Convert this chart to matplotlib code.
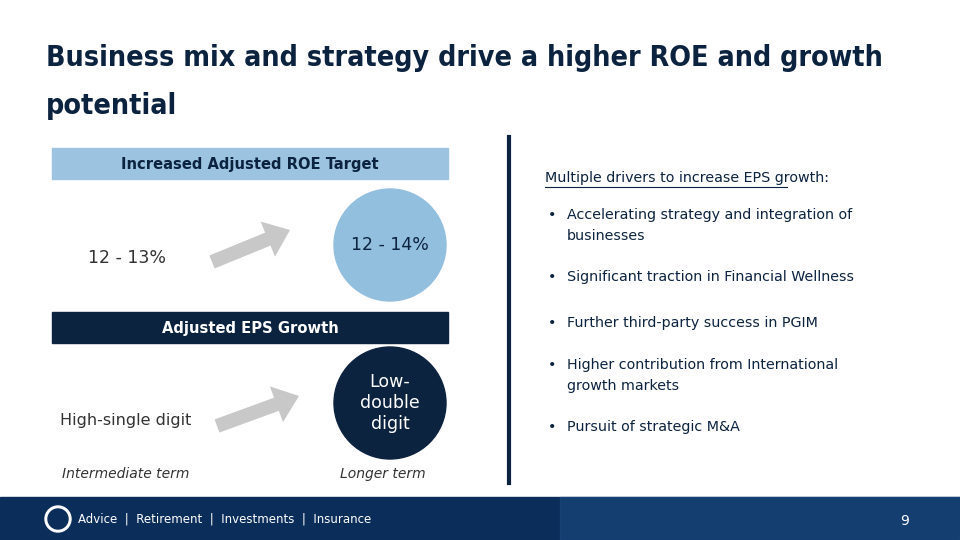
import matplotlib.pyplot as plt
from matplotlib.patches import Rectangle, Circle, FancyArrow

title_lines = ["Business mix and strategy drive a higher ROE and growth", "potential"]
roe_header = "Increased Adjusted ROE Target"
roe_values = ["12 - 13%", "12 - 14%"]
eps_header = "Adjusted EPS Growth"
eps_values = ["High-single digit", "Low-\ndouble\ndigit"]
horizons = ["Intermediate term", "Longer term"]
drivers_header = "Multiple drivers to increase EPS growth:"
drivers = [("Accelerating strategy and integration of\nbusinesses", 216),
           ("Significant traction in Financial Wellness", 278),
           ("Further third-party success in PGIM", 324),
           ("Higher contribution from International\ngrowth markets", 366),
           ("Pursuit of strategic M&A", 428)]
footer = "Advice  |  Retirement  |  Investments  |  Insurance"
page = "9"

navy = "#0c2340"
light = "#9cc3e0"
grey = "#333333"
cond = dict(family="DejaVu Sans", stretch="condensed")

fig = plt.figure(figsize=(9.6, 5.4), dpi=100)
ax = fig.add_axes([0, 0, 1, 1])
ax.set_xlim(0, 960)
ax.set_ylim(540, 0)
ax.axis("off")

for i, line in enumerate(title_lines):
    ax.text(46, 58 + i * 48, line, fontsize=20.5, fontweight="bold", color=navy,
            va="center", **cond)

# ROE block
ax.add_patch(Rectangle((52, 148), 396, 31, color=light))
ax.text(250, 164, roe_header, fontsize=11.8, fontweight="bold", color=navy,
        ha="center", va="center", **cond)
ax.text(88, 258, roe_values[0], fontsize=12.5, color=grey, va="center")
ax.add_patch(FancyArrow(212, 262, 78, -32, width=14, head_width=38, head_length=24,
                        length_includes_head=True, color="#c8c8c8", lw=0))
ax.add_patch(Circle((390, 245), 56, color="#93bfdf"))
ax.text(390, 245, roe_values[1], fontsize=12.5, color=navy, ha="center", va="center")

# EPS block
ax.add_patch(Rectangle((52, 312), 396, 31, color=navy))
ax.text(250, 328, eps_header, fontsize=11.8, fontweight="bold", color="white",
        ha="center", va="center", **cond)
ax.text(60, 420, eps_values[0], fontsize=11.5, color=grey, va="center")
ax.add_patch(FancyArrow(217, 426, 82, -30, width=14, head_width=38, head_length=24,
                        length_includes_head=True, color="#c8c8c8", lw=0))
ax.add_patch(Circle((390, 403), 56, color=navy))
ax.text(390, 403, eps_values[1], fontsize=12.5, color="white", ha="center", va="center",
        linespacing=1.2)

ax.text(62, 474, horizons[0], fontsize=10, style="italic", color=grey, va="center")
ax.text(340, 474, horizons[1], fontsize=10, style="italic", color=grey, va="center")

# divider
ax.plot([509, 509], [137, 483], color=navy, lw=3)

# drivers
ax.text(545, 178, drivers_header, fontsize=10.3, color=navy, va="center")
ax.plot([545, 787], [187, 187], color=navy, lw=0.8)
for text, y in drivers:
    ax.text(548, y - 8, "•", fontsize=10.3, color=navy, va="top")
    ax.text(567, y - 8, text, fontsize=10.3, color=navy, va="top", linespacing=1.6)

# footer
ax.add_patch(Rectangle((0, 497), 960, 43, color="#0b2d5a"))
ax.add_patch(Rectangle((560, 497), 400, 43, color="#1d4f86", alpha=0.5))
ax.add_patch(Circle((58, 519), 13, color="white"))
ax.add_patch(Circle((58, 519), 10, color="#0b2d5a"))
ax.text(78, 519, footer, fontsize=8.5, color="white", va="center")
ax.text(905, 521, page, fontsize=10, color="white", ha="center", va="center")

fig.savefig("out.png", dpi=100)
